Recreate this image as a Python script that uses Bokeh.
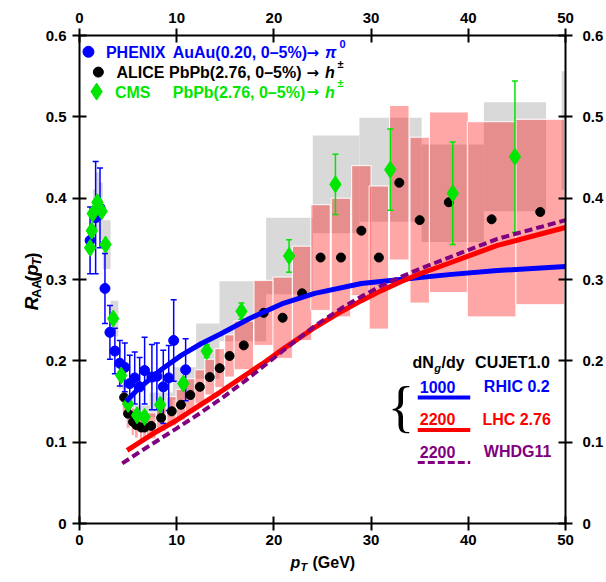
import math
from bokeh.plotting import figure
from bokeh.models import LinearAxis, FixedTicker, Range1d, Label
from bokeh.layouts import row, column
from bokeh.core.properties import value
from bokeh.embed import file_html
from bokeh.resources import INLINE

# ---------------- data ----------------
x_ticks = [0, 10, 20, 30, 40, 50]
y_ticks = [0, 0.1, 0.2, 0.3, 0.4, 0.5, 0.6]
y_tick_labels = {0: "0", 0.1: "0.1", 0.2: "0.2", 0.3: "0.3", 0.4: "0.4", 0.5: "0.5", 0.6: "0.6"}

# PHENIX AuAu 0.20 TeV, 0-5%, pi0
phenix_pt  = [1.09, 1.66, 2.11, 2.62, 3.13, 3.64, 4.15, 4.66, 5.17, 5.68, 6.19, 6.70, 7.45, 7.96, 8.62, 9.18, 9.69, 10.92]
phenix_raa = [0.348, 0.376, 0.388, 0.289, 0.235, 0.212, 0.197, 0.192, 0.172, 0.179, 0.168, 0.188, 0.180, 0.181, 0.168, 0.179, 0.225, 0.189]
phenix_err = [0.041, 0.069, 0.049, 0.043, 0.033, 0.028, 0.028, 0.030, 0.035, 0.032, 0.036, 0.041, 0.040, 0.041, 0.045, 0.040, 0.050, 0.038]

# ALICE PbPb 2.76 TeV, 0-5%, h+-
alice_pt  = [4.59, 5.00, 5.51, 5.85, 6.36, 6.70, 7.38, 8.40, 9.49, 10.44, 11.40, 12.38, 13.40, 14.42, 15.44, 16.90,
             18.95, 20.90, 22.90, 24.80, 26.90, 29.00, 30.80, 32.90, 35.00, 38.00, 42.40, 47.40]
alice_raa = [0.155, 0.135, 0.125, 0.121, 0.118, 0.118, 0.120, 0.130, 0.138, 0.146, 0.158, 0.168, 0.180, 0.191, 0.206, 0.219,
             0.259, 0.253, 0.283, 0.327, 0.327, 0.360, 0.327, 0.419, 0.373, 0.395, 0.374, 0.383]
alice_sys = [0.020, 0.018, 0.017, 0.016, 0.016, 0.016, 0.016, 0.017, 0.018, 0.019, 0.020, 0.021, 0.022, 0.024, 0.026, 0.030,
             0.040, 0.050, 0.058, 0.065, 0.073, 0.080, 0.088, 0.095, 0.102, 0.111, 0.120, 0.114]
alice_dpt = [0.2, 0.2, 0.2, 0.2, 0.2, 0.2, 0.5, 0.5, 0.5, 0.5, 0.5, 0.5, 0.5, 0.5, 0.5, 1.0,
             1.0, 1.0, 1.0, 1.0, 1.0, 1.0, 1.0, 1.0, 1.0, 2.0, 2.5, 2.5]

# CMS PbPb 2.76 TeV, 0-5%, h+-
cms_pt   = [1.09, 1.26, 1.36, 1.84, 2.28, 2.68, 3.47, 4.29, 5.00, 5.92, 6.70, 8.30, 10.68, 13.09, 16.66, 21.56, 26.33, 31.97, 38.40, 44.80, 54.40]
cms_raa  = [0.339, 0.360, 0.381, 0.395, 0.384, 0.343, 0.252, 0.182, 0.147, 0.133, 0.131, 0.146, 0.172, 0.212, 0.261, 0.329, 0.417, 0.435, 0.406, 0.451, 0.483]
cms_stat = [0.004, 0.004, 0.004, 0.004, 0.004, 0.004, 0.003, 0.003, 0.003, 0.003, 0.003, 0.004, 0.005, 0.008, 0.010, 0.020, 0.037, 0.050, 0.063, 0.093, 0.150]
cms_sys  = [0.030, 0.030, 0.030, 0.037, 0.035, 0.030, 0.022, 0.016, 0.013, 0.012, 0.014, 0.015, 0.020, 0.034, 0.037, 0.047, 0.060, 0.064, 0.060, 0.067, 0.073]
cms_lo   = [1.0, 1.2, 1.4, 1.6, 2.0, 2.4, 3.2, 4.0, 4.8, 5.6, 6.4, 7.2, 9.6, 12.0, 14.4, 19.2, 24.0, 28.8, 35.2, 41.6, 49.6]
cms_hi   = [1.2, 1.4, 1.6, 2.0, 2.4, 3.2, 4.0, 4.8, 5.6, 6.4, 7.2, 9.6, 12.0, 14.4, 19.2, 24.0, 28.8, 35.2, 41.6, 48.0, 60.8]

# CUJET1.0 / WHDG11 curves
rhic_pt  = [4.8, 6.0, 7.1, 8.5, 10.5, 12.5, 14.5, 17.5, 20.8, 24.2, 29.0, 33.0, 38.0, 43.0, 50.0]
rhic_raa = [0.150, 0.165, 0.176, 0.190, 0.207, 0.221, 0.233, 0.252, 0.270, 0.283, 0.295, 0.300, 0.306, 0.311, 0.316]
lhc_pt   = [4.9, 7.5, 10.0, 12.2, 14.4, 17.0, 19.0, 21.0, 24.2, 27.0, 29.0, 31.0, 33.0, 35.0, 38.0, 43.0, 50.0]
lhc_raa  = [0.090, 0.110, 0.127, 0.144, 0.161, 0.182, 0.198, 0.215, 0.241, 0.261, 0.274, 0.286, 0.297, 0.307, 0.320, 0.342, 0.364]
whdg_pt  = [4.4, 7.5, 10.0, 12.2, 14.4, 17.0, 19.0, 21.0, 24.2, 27.0, 29.0, 31.0, 33.0, 35.0, 38.0, 43.0, 50.0]
whdg_raa = [0.074, 0.098, 0.117, 0.134, 0.152, 0.175, 0.194, 0.213, 0.243, 0.265, 0.279, 0.292, 0.303, 0.313, 0.327, 0.350, 0.373]

BLUE = "#0000ff"
RED = "#ff0000"
GREEN = "#00e600"
PURPLE = "#800080"
FONT = "Liberation Sans"

# ---------------- main figure ----------------
p = figure(width=564, height=553, x_range=Range1d(0, 50), y_range=Range1d(0, 0.6),
           output_backend="svg", toolbar_location=None,
           min_border_left=34, min_border_right=40, min_border_top=35, min_border_bottom=30)
p.xgrid.visible = False
p.ygrid.visible = False
p.outline_line_color = None
p.background_fill_color = "white"
p.border_fill_color = "white"


def style_axis(ax, ticks, overrides=None, standoff=5):
    ax.ticker = FixedTicker(ticks=ticks)
    ax.axis_line_width = 2
    ax.axis_line_color = "black"
    ax.major_tick_line_width = 2
    ax.major_tick_line_color = "black"
    ax.major_tick_in = 7
    ax.major_tick_out = 7
    ax.minor_tick_line_color = None
    ax.major_label_text_font = FONT
    ax.major_label_text_font_style = "bold"
    ax.major_label_text_font_size = "15px"
    ax.major_label_text_color = "black"
    ax.major_label_standoff = standoff
    ax.axis_label_standoff = 0
    if overrides:
        ax.major_label_overrides = overrides


style_axis(p.xaxis[0], x_ticks, standoff=4)
style_axis(p.yaxis[0], y_ticks, y_tick_labels, standoff=6)
top = LinearAxis()
style_axis(top, x_ticks, standoff=6)
p.add_layout(top, "above")
right = LinearAxis()
style_axis(right, y_ticks, y_tick_labels, standoff=10)
p.add_layout(right, "right")

# CMS systematic boxes (grey)
p.quad(left=cms_lo, right=cms_hi,
       bottom=[y - s for y, s in zip(cms_raa, cms_sys)],
       top=[y + s for y, s in zip(cms_raa, cms_sys)],
       fill_color="#d9d9d9", fill_alpha=1.0, line_color=None)

# ALICE systematic boxes (pink)
p.quad(left=[x - d for x, d in zip(alice_pt, alice_dpt)],
       right=[x + d for x, d in zip(alice_pt, alice_dpt)],
       bottom=[y - s for y, s in zip(alice_raa, alice_sys)],
       top=[y + s for y, s in zip(alice_raa, alice_sys)],
       fill_color=RED, fill_alpha=0.35, line_color="white", line_width=1)

# PHENIX
ph_lo = [y - e for y, e in zip(phenix_raa, phenix_err)]
ph_hi = [y + e for y, e in zip(phenix_raa, phenix_err)]
p.segment(x0=phenix_pt, y0=ph_lo, x1=phenix_pt, y1=ph_hi, line_color=BLUE, line_width=1.5)
p.scatter(phenix_pt, ph_lo, marker="dash", size=6, line_color=BLUE, line_width=1.5)
p.scatter(phenix_pt, ph_hi, marker="dash", size=6, line_color=BLUE, line_width=1.5)
p.scatter(phenix_pt, phenix_raa, marker="circle", size=10, fill_color=BLUE, line_color=BLUE)

# ALICE points
p.scatter(alice_pt, alice_raa, marker="circle", size=9, fill_color="black", line_color="black")

# CMS
cm_lo = [y - e for y, e in zip(cms_raa, cms_stat)]
cm_hi = [y + e for y, e in zip(cms_raa, cms_stat)]
p.segment(x0=cms_pt, y0=cm_lo, x1=cms_pt, y1=cm_hi, line_color=GREEN, line_width=1.5)
p.scatter(cms_pt, cm_lo, marker="dash", size=6, line_color=GREEN, line_width=1.5)
p.scatter(cms_pt, cm_hi, marker="dash", size=6, line_color=GREEN, line_width=1.5)
p.scatter(cms_pt, cms_raa, marker="diamond", size=17, fill_color=GREEN, line_color=GREEN)

# curves
p.line(rhic_pt, rhic_raa, line_color=BLUE, line_width=5)
p.line(lhc_pt, lhc_raa, line_color=RED, line_width=5)
p.line(whdg_pt, whdg_raa, line_color=PURPLE, line_width=4, line_dash="8 4")


def lab(x, y, text, color="black", size="16px", style="bold", align="left", baseline="middle",
        font=FONT):
    p.add_layout(Label(x=x, y=y, text=text, text_color=color, text_font=font,
                       text_font_size=size, text_font_style=style, text_align=align,
                       text_baseline=baseline))


# top-left legend
p.scatter([0.92], [0.580], marker="circle", size=11, fill_color=BLUE, line_color=BLUE)
p.scatter([1.94], [0.555], marker="circle", size=10, fill_color="black", line_color="black")
p.scatter([1.76], [0.531], marker="diamond", size=17, fill_color=GREEN, line_color=GREEN)

lab(2.72, 0.579, "PHENIX", BLUE)
lab(9.59, 0.579, "AuAu(0.20, 0\u20135%)", BLUE)
lab(23.35, 0.579, "\u2192", BLUE, size="15px", font="DejaVu Sans")
lab(25.25, 0.579, "\u03c0", BLUE, style="bold italic")
lab(26.75, 0.590, "0", BLUE, size="11px")

lab(3.81, 0.554, "ALICE PbPb(2.76, 0\u20135%)", "black")
lab(23.35, 0.554, "\u2192", "black", size="15px", font="DejaVu Sans")
lab(25.25, 0.554, "h", "black", style="bold italic")
lab(26.55, 0.565, "\u00b1", "black", size="11px")

lab(3.64, 0.530, "CMS", GREEN)
lab(9.59, 0.530, "PbPb(2.76, 0\u20135%)", GREEN)
lab(23.35, 0.530, "\u2192", GREEN, size="15px", font="DejaVu Sans")
lab(25.25, 0.530, "h", GREEN, style="bold italic")
lab(26.55, 0.541, "\u00b1", GREEN, size="11px")

# bottom-right legend
lab(34.26, 0.198, "dN", "black")
lab(36.50, 0.191, "g", "black", size="11px", style="bold italic")
lab(37.25, 0.198, "/dy", "black")
lab(40.70, 0.198, "CUJET1.0", "black")

lab(36.84, 0.168, "1000", BLUE, align="center")
lab(41.60, 0.168, "RHIC 0.2", BLUE)
p.line([34.8, 40.2], [0.155, 0.155], line_color=BLUE, line_width=4)

lab(36.84, 0.128, "2200", RED, align="center")
lab(41.45, 0.128, "LHC 2.76", RED)
p.line([34.8, 40.2], [0.115, 0.115], line_color=RED, line_width=4)

lab(36.84, 0.088, "2200", PURPLE, align="center")
lab(41.60, 0.088, "WHDG11", PURPLE)
p.line([34.8, 40.2], [0.075, 0.075], line_color=PURPLE, line_width=3, line_dash="7 3")

lab(33.06, 0.143, "{", "black", size="56px", style="normal", align="center", font="Liberation Serif")


# ---------------- axis-title strips (page pixel coordinates) ----------------
def strip(w, h, y0, y1):
    f = figure(width=w, height=h, x_range=Range1d(0, w), y_range=Range1d(y1, y0),
               output_backend="svg", toolbar_location=None,
               x_axis_location=None, y_axis_location=None,
               min_border_left=0, min_border_right=0, min_border_top=0, min_border_bottom=0)
    f.grid.visible = False
    f.outline_line_color = None
    f.background_fill_color = "white"
    f.border_fill_color = "white"
    return f


def txt(f, x, y, text, size="16px", style="bold", angle=0.0):
    f.text(x=[x], y=[y], text=[text], text_font=value(FONT), text_font_size=value(size),
           text_font_style=style, text_color="black", text_align="left",
           text_baseline="middle", angle=angle)


ylab = strip(42, 553, 0, 553)
a = math.pi / 2
txt(ylab, 31, 311.3, "R", "19px", "bold italic", a)
txt(ylab, 35.5, 297.6, "AA", "13px", "bold", a)
txt(ylab, 31, 278.8, "(", "19px", "bold", a)
txt(ylab, 31, 272.5, "p", "19px", "bold italic", a)
txt(ylab, 35.5, 260.9, "T", "13px", "bold italic", a)
txt(ylab, 31, 253.0, ")", "19px", "bold", a)

xlab = strip(606, 29, 553, 582)
txt(xlab, 290, 562, "p", "16px", "bold italic")
txt(xlab, 300, 566, "T", "11px", "bold italic")
txt(xlab, 312, 562, "(GeV)", "16px", "bold")

layout = column(row(ylab, p, spacing=0), xlab, spacing=0)

open("out.html", "w").write(file_html(layout, INLINE))
